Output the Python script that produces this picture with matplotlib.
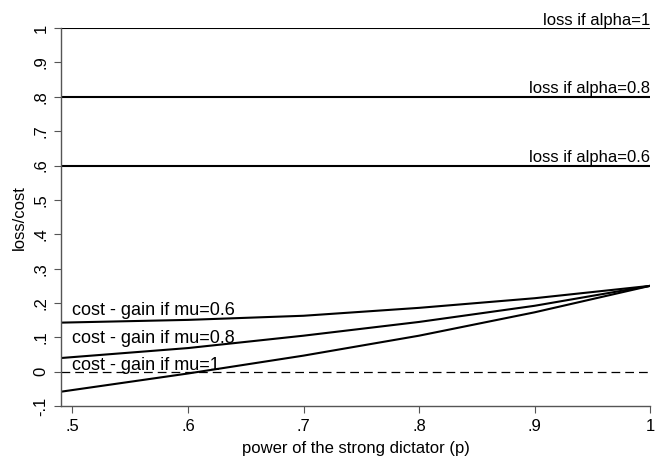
"""
Loss vs cost of a strong dictator, Stata-style line plot
"""

import matplotlib
matplotlib.use("Agg")
import matplotlib.pyplot as plt

plt.rcParams['font.family'] = ['Liberation Sans', 'DejaVu Sans']

# power of the strong dictator
p = [0.49, 0.6, 0.7, 0.8, 0.9, 1.0]

# cost - gain curves
cost_mu06 = [0.143, 0.151, 0.163, 0.186, 0.214, 0.25]
cost_mu08 = [0.040, 0.069, 0.105, 0.145, 0.192, 0.25]
cost_mu1 = [-0.058, -0.005, 0.047, 0.105, 0.173, 0.25]

# flat loss levels
alphas = [1.0, 0.8, 0.6]
loss_labels = ['loss if alpha=1', 'loss if alpha=0.8', 'loss if alpha=0.6']
cost_labels = ['cost - gain if mu=0.6', 'cost - gain if mu=0.8', 'cost - gain if mu=1']

xticks = [0.5, 0.6, 0.7, 0.8, 0.9, 1.0]
xticklabels = ['.5', '.6', '.7', '.8', '.9', '1']
yticks = [-0.1, 0, 0.1, 0.2, 0.3, 0.4, 0.5, 0.6, 0.7, 0.8, 0.9, 1.0]
yticklabels = ['-.1', '0', '.1', '.2', '.3', '.4', '.5', '.6', '.7', '.8', '.9', '1']

fig = plt.figure(figsize=(6.62, 4.61), dpi=100)
ax = fig.add_axes([0.092, 0.119, 0.890, 0.820])

# horizontal loss lines
for a, lab in zip(alphas, loss_labels):
    ax.plot([p[0], p[-1]], [a, a], color='black', lw=1.5)
    ax.text(p[-1], a + 0.01, lab, ha='right', va='baseline', fontsize=12)

# cost - gain curves
for ys in (cost_mu06, cost_mu08, cost_mu1):
    ax.plot(p, ys, color='black', lw=1.5)

label_y = [0.165, 0.085, 0.006]
for ly, lab in zip(label_y, cost_labels):
    ax.text(0.5, ly, lab, ha='left', va='baseline', fontsize=13)

# zero reference line
ax.plot([p[0], p[-1]], [0, 0], color='black', lw=0.9, dashes=(7, 4))

ax.set_xlim(0.49, 1.0)
ax.set_ylim(-0.1, 1.0)
ax.set_xticks(xticks)
ax.set_xticklabels(xticklabels)
ax.set_yticks(yticks)
ax.set_yticklabels(yticklabels, rotation=90, va='center')

for side in ['top', 'right']:
    ax.spines[side].set_visible(False)
for side in ['left', 'bottom']:
    ax.spines[side].set_color('#555555')
    ax.spines[side].set_linewidth(1.0)
ax.tick_params(direction='out', length=5, color='#555555', labelsize=12, pad=4)

ax.set_xlabel('power of the strong dictator (p)', fontsize=12, labelpad=5)
ax.set_ylabel('loss/cost', fontsize=12, labelpad=5)

fig.savefig('out.png', dpi=100)
